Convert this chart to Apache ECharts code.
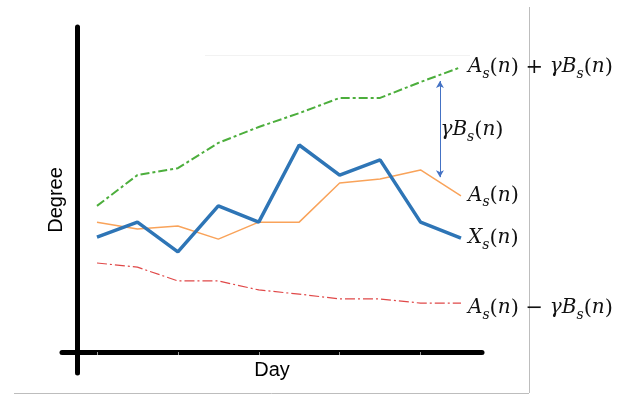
<!DOCTYPE html>
<html>
<head>
<meta charset="utf-8">
<script src="https://cdn.jsdelivr.net/npm/echarts@6/dist/echarts.min.js"></script>
<style>
    html, body { margin: 0; padding: 0; background: #fff; }
    #chart { width: 628px; height: 395px; }
</style>
</head>
<body>
<div id="chart"></div>
<script>
    // day index (0..9), values in "degree" units
    var days = [0, 1, 2, 3, 4, 5, 6, 7, 8, 9];
    var xValues = [39.3, 43.6, 35.0, 48.3, 43.6, 65.9, 57.2, 61.6, 43.6, 39.0];
    var aValues = [43.6, 41.6, 42.5, 38.7, 43.6, 43.6, 54.9, 56.1, 58.7, 51.2];
    var upperValues = [48.3, 57.2, 59.2, 66.5, 71.1, 75.1, 79.5, 79.5, 84.1, 88.4];
    var lowerValues = [31.8, 30.6, 26.6, 26.6, 24.0, 22.8, 21.4, 21.4, 20.2, 20.2];
    var tickDays = [0, 2, 4, 6, 8];

    // the double arrow that marks gamma*B
    var gapDay = 8.48;
    var gapTop = 84.4;
    var gapBottom = 56.6;

    function pairs(vals) {
        return days.map(function (d, i) { return [d, vals[i]]; });
    }

    var mathRich = {
        v: { fontFamily: 'DejaVu Serif', fontStyle: 'italic', fontSize: 20, color: '#111', lineHeight: 28 },
        p: { fontFamily: 'DejaVu Serif', fontSize: 21, color: '#111', lineHeight: 28 },
        sub: { fontFamily: 'DejaVu Serif', fontStyle: 'italic', fontSize: 14, color: '#111', lineHeight: 13, verticalAlign: 'bottom' }
    };
    var asText = '{v|A}{sub|s}{p|(}{v|n}{p|)}';
    var bsText = '{v|γB}{sub|s}{p|(}{v|n}{p|)}';

    var myChart = echarts.init(document.getElementById('chart'));
    var options = {
        animation: false,
        grid: { left: 62, right: 146, top: 27, bottom: 22 },
        xAxis: {
            type: 'value',
            min: -0.865,
            max: 9.52,
            offset: -21,
            name: 'Day',
            nameLocation: 'middle',
            nameGap: 8,
            nameTextStyle: { fontFamily: 'Liberation Sans', fontSize: 20, color: '#000' },
            axisLine: { show: true, onZero: false, lineStyle: { color: '#000', width: 5 } },
            axisTick: { show: true, customValues: tickDays, length: 3, lineStyle: { color: '#999', width: 1 } },
            axisLabel: { show: false },
            splitLine: { show: false }
        },
        yAxis: {
            type: 'value',
            min: 0,
            max: 100,
            offset: -15,
            name: 'Degree',
            nameLocation: 'middle',
            nameGap: 11,
            nameTextStyle: { fontFamily: 'Liberation Sans', fontSize: 20, color: '#000' },
            axisLine: { show: true, onZero: false, lineStyle: { color: '#000', width: 5 } },
            axisTick: { show: false },
            axisLabel: { show: false },
            splitLine: { show: false }
        },
        series: [
            {
                name: 'upper',
                type: 'line',
                data: pairs(upperValues),
                symbol: 'none',
                lineStyle: { color: '#4cae3c', width: 2, type: [9, 3, 3, 3] },
                endLabel: {
                    show: true, distance: 7,
                    formatter: asText + '{p| + }' + bsText,
                    rich: mathRich
                },
                markLine: {
                    silent: true,
                    symbol: ['arrow', 'arrow'],
                    symbolSize: [6, 7],
                    lineStyle: { color: '#4472c4', width: 1, type: 'solid' },
                    label: { show: false },
                    data: [[{ coord: [gapDay, gapTop] }, { coord: [gapDay, gapBottom] }]]
                },
                markPoint: {
                    silent: true,
                    symbol: 'circle',
                    symbolSize: 1,
                    itemStyle: { color: 'rgba(0,0,0,0)' },
                    label: { show: true, position: 'right', distance: 0, formatter: bsText, rich: mathRich },
                    data: [{ coord: [gapDay, (gapTop + gapBottom) / 2 - 0.3] }]
                }
            },
            {
                name: 'A',
                type: 'line',
                data: pairs(aValues),
                symbol: 'none',
                lineStyle: { color: '#f9a35a', width: 1.5 },
                endLabel: { show: true, distance: 7, formatter: asText, rich: mathRich }
            },
            {
                name: 'X',
                type: 'line',
                data: pairs(xValues),
                symbol: 'none',
                lineStyle: { color: '#2e75b6', width: 3.5 },
                endLabel: {
                    show: true, distance: 7,
                    formatter: '{v|X}{sub|s}{p|(}{v|n}{p|)}',
                    rich: mathRich
                }
            },
            {
                name: 'lower',
                type: 'line',
                data: pairs(lowerValues),
                symbol: 'none',
                lineStyle: { color: '#e04848', width: 1.2, type: [10, 3, 2, 3] },
                endLabel: {
                    show: true, distance: 7, offset: [0, 5],
                    formatter: asText + '{p| − }' + bsText,
                    rich: mathRich
                }
            }
        ],
        // faint page edges seen in the picture
        graphic: [
            { type: 'line', silent: true, shape: { x1: 529.5, y1: 7, x2: 529.5, y2: 393 }, style: { stroke: '#bdbdbd', lineWidth: 1 } },
            { type: 'line', silent: true, shape: { x1: 14, y1: 393.5, x2: 529, y2: 393.5 }, style: { stroke: '#bdbdbd', lineWidth: 1 } },
            { type: 'line', silent: true, shape: { x1: 205, y1: 55.5, x2: 470, y2: 55.5 }, style: { stroke: '#f2f2f2', lineWidth: 1 } }
        ]
    };
    myChart.setOption(options);
    window.addEventListener('resize', myChart.resize);
</script>
</body>
</html>
